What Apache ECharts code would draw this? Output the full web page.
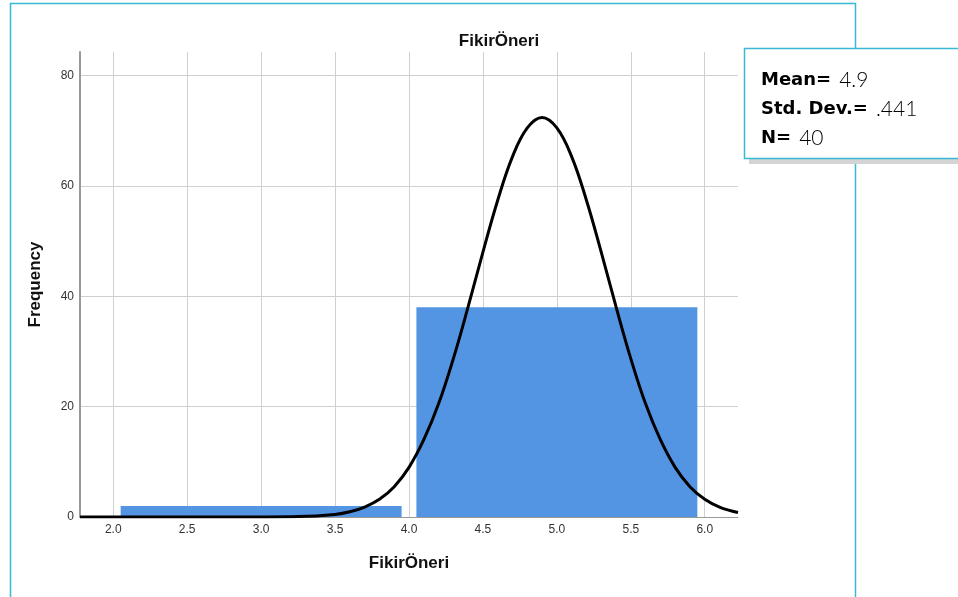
<!DOCTYPE html>
<html><head><meta charset="utf-8">
<script src="https://cdn.jsdelivr.net/npm/echarts@6/dist/echarts.min.js"></script>
<style>html,body{margin:0;padding:0;background:#fff}#c{width:958px;height:597px}</style>
</head><body><div id="c"></div>
<script>
// Histogram bins: [start, end, frequency]
const binStarts = [2.05, 4.05];
const binEnds = [3.95, 5.95];
const binFreq = [2, 38];
// Normal curve points
const curveX = [1.775, 2.0, 2.5, 3.0, 3.25, 3.5, 3.6, 3.7, 3.8, 3.9, 4.0, 4.1, 4.2, 4.3, 4.4, 4.5, 4.6, 4.7, 4.8, 4.9, 5.0, 5.1, 5.2, 5.3, 5.4, 5.5, 5.6, 5.7, 5.8, 5.9, 6.0, 6.1, 6.225];
const curveY = [0, 0, 0, 0.01, 0.07, 0.47, 0.94, 1.8, 3.2, 5.5, 9.0, 14.0, 20.5, 28.7, 38.1, 48.0, 57.4, 65.3, 70.5, 72.4, 70.5, 65.3, 57.4, 48.0, 38.1, 28.7, 20.5, 14.0, 9.0, 5.5, 3.2, 1.8, 0.8];
const xTicks = [2.0, 2.5, 3.0, 3.5, 4.0, 4.5, 5.0, 5.5, 6.0];
const yTicks = [0, 20, 40, 60, 80];
const titleText = 'FikirÖneri';
const statsLabels = ['Mean=', 'Std. Dev.=', 'N='];
const statsValues = ['4.9', '.441', '40'];

const chart = echarts.init(document.getElementById('c'));
const barData = binStarts.map((s, i) => [s, binEnds[i], binFreq[i]]);
const curveData = curveX.map((x, i) => [x, curveY[i]]);
const cyan = '#3bb8d6';
const statsText = statsLabels.map((l, i) => '{b|' + l + '}{l|' + statsValues[i] + '}').join('\n');

chart.setOption({
  animation: false,
  title: {
    text: titleText, left: 494, top: 28, textAlign: 'center',
    textStyle: {fontFamily: 'Liberation Sans', fontSize: 17, fontWeight: 'bold', color: '#111'}
  },
  grid: {left: 80, top: 52, right: 220, bottom: 80, containLabel: false},
  xAxis: {
    type: 'value', min: 1.775, max: 6.225,
    name: 'FikirÖneri', nameLocation: 'middle', nameGap: 38,
    nameTextStyle: {fontFamily: 'Liberation Sans', fontSize: 17, fontWeight: 'bold', color: '#111'},
    axisLine: {show: true, onZero: false, lineStyle: {color: '#999', width: 1}},
    axisTick: {show: false, customValues: xTicks},
    axisLabel: {customValues: xTicks, formatter: v => v.toFixed(1), color: '#333', fontFamily: 'Liberation Sans', fontSize: 12, margin: 7},
    splitLine: {show: true, lineStyle: {color: '#d0d0d0', width: 1}}
  },
  yAxis: {
    type: 'value', min: 0, max: 84.25,
    name: 'Frequency', nameLocation: 'middle', nameGap: 36,
    nameTextStyle: {fontFamily: 'Liberation Sans', fontSize: 17, fontWeight: 'bold', color: '#111'},
    axisLine: {show: true, lineStyle: {color: '#999', width: 2}},
    axisTick: {show: false, customValues: yTicks},
    axisLabel: {customValues: yTicks, color: '#333', fontFamily: 'Liberation Sans', fontSize: 12, margin: 6},
    splitLine: {show: true, lineStyle: {color: '#d0d0d0', width: 1}}
  },
  series: [
    {
      type: 'custom', z: 2,
      data: barData,
      encode: {x: [0, 1], y: 2},
      renderItem: function (params, api) {
        const p0 = api.coord([api.value(0), api.value(2)]);
        const p1 = api.coord([api.value(1), 0]);
        return {type: 'rect', shape: {x: p0[0], y: p0[1], width: p1[0] - p0[0], height: p1[1] - p0[1]},
          style: {fill: '#5394e3'}};
      }
    },
    {
      type: 'line', z: 3, data: curveData, smooth: 0.4, symbol: 'none',
      lineStyle: {color: '#000', width: 3}
    }
  ],
  graphic: [
    {type: 'rect', z: 0, shape: {x: 10.5, y: 3.5, width: 845, height: 620}, style: {fill: null, stroke: cyan, lineWidth: 1.5}},
    {type: 'rect', z: 10, shape: {x: 749, y: 52, width: 215, height: 112}, style: {fill: '#d4d4d4'}},
    {type: 'rect', z: 11, shape: {x: 744.5, y: 48.5, width: 220, height: 110}, style: {fill: '#fff', stroke: cyan, lineWidth: 1.5}},
    {type: 'text', z: 12, left: 761, top: 66, style: {
      text: statsText, lineHeight: 29,
      rich: {
        b: {fontFamily: 'DejaVu Sans', fontWeight: 'bold', fontSize: 18, color: '#222', lineHeight: 29},
        l: {fontFamily: 'Lato', fontWeight: 300, fontSize: 21, color: '#222', lineHeight: 29, padding: [0, 0, 0, 8]}
      }
    }}
  ]
});
</script></body></html>
